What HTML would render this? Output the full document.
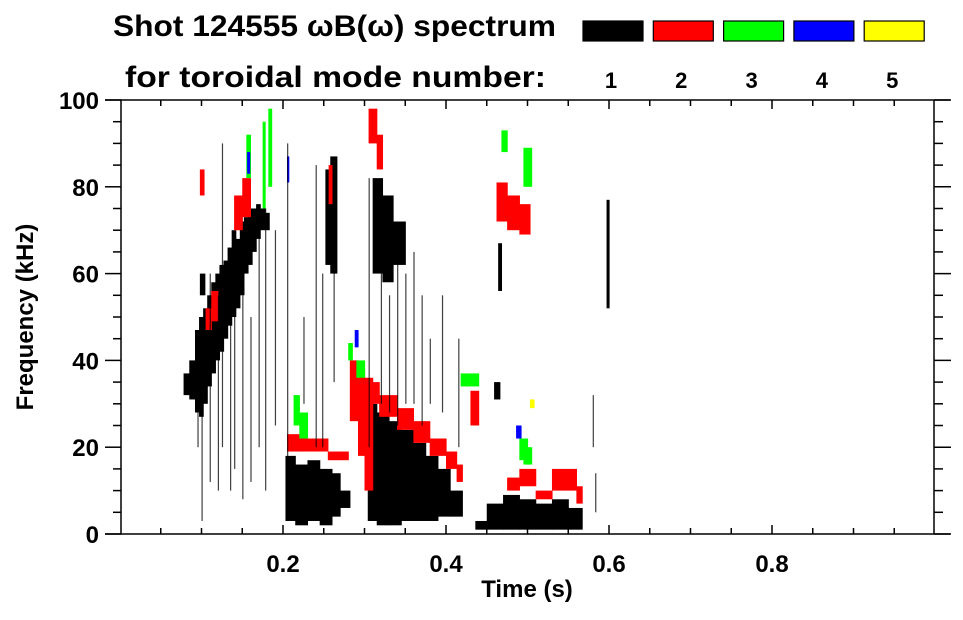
<!DOCTYPE html>
<html><head><meta charset="utf-8">
<style>
html,body{margin:0;padding:0;background:#fff;}
body{width:963px;height:615px;overflow:hidden;font-family:"Liberation Sans",Arial,sans-serif;}
svg text{font-family:"Liberation Sans",Arial,sans-serif;font-weight:bold;fill:#000;}
</style></head>
<body>
<svg id="chart" width="963" height="615" viewBox="0 0 963 615" xmlns="http://www.w3.org/2000/svg">
  <g>
    <text x="113" y="36" font-size="30" textLength="443" lengthAdjust="spacingAndGlyphs">Shot 124555 ωB(ω) spectrum</text>
    <text x="125" y="87" font-size="30" textLength="421" lengthAdjust="spacingAndGlyphs">for toroidal mode number:</text>
  </g>
  <g id="legend"></g>
  <g id="plot"></g>
  <g id="axes"></g>
  <text x="527" y="597" font-size="24" text-anchor="middle">Time (s)</text>
  <text transform="translate(33,317) rotate(-90)" font-size="24" text-anchor="middle">Frequency (kHz)</text>
</svg>
<script>
// ---- data ----
const modeNumbers = ["1","2","3","4","5"];
const modeColors = ["#000000","#ff0000","#00ff00","#0000ff","#ffff00"];
const xTicks = [0.2,0.4,0.6,0.8];
const yTicks = [0,20,40,60,80,100];
// rectangles [t0, t1, fLow, fHigh] per mode
const mode1Blobs = [
 [0.078,0.085,32,37],[0.085,0.092,31,40],[0.092,0.097,28,47],[0.097,0.102,27,50],[0.102,0.107,30,52],
 [0.107,0.112,34,55],[0.112,0.117,37,58],[0.117,0.122,40,60],[0.122,0.127,42,62],[0.127,0.132,45,63],
 [0.132,0.137,48,66],[0.137,0.142,50,70],[0.142,0.147,52,68],[0.147,0.152,55,72],[0.152,0.157,60,73],
 [0.157,0.162,62,75],[0.162,0.167,65,75],[0.167,0.172,68,76],[0.172,0.178,70,75],[0.178,0.183,70,74],
 [0.098,0.104,55,60],
 [0.203,0.215,3,18],[0.215,0.23,2,16],[0.23,0.245,3,17],[0.245,0.26,2,15],[0.26,0.27,4,14],[0.27,0.282,6,10],
 [0.252,0.258,62,84],[0.258,0.266,60,87],
 [0.304,0.315,3,30],[0.315,0.33,2,28],[0.33,0.345,2,26],[0.345,0.36,3,24],[0.36,0.375,3,21],
 [0.375,0.39,3,18],[0.39,0.405,4,15],[0.405,0.42,4,10],
 [0.31,0.322,60,82],[0.322,0.335,58,78],[0.335,0.35,62,72],
 [0.436,0.45,1,3],[0.45,0.47,1,7],[0.47,0.49,1,9],[0.49,0.51,1,8],[0.51,0.53,1,7],[0.53,0.55,1,8],[0.55,0.567,1,6],
 [0.459,0.466,31,35],[0.464,0.468,56,67],[0.597,0.6,52,77]
];
const mode1Streaks = [
 [0.095,20,45],[0.1,3,40],[0.11,12,60],[0.12,10,55],[0.125,20,90],[0.135,10,65],[0.14,15,60],[0.15,8,55],
 [0.16,12,50],[0.17,20,70],[0.178,10,75],[0.19,25,70],[0.205,15,90],[0.225,30,50],[0.24,20,85],
 [0.248,20,60],[0.262,35,62],[0.305,20,82],[0.32,30,60],[0.33,28,55],[0.34,25,70],[0.35,30,60],
 [0.36,30,65],[0.37,25,55],[0.38,30,45],[0.395,28,55],[0.415,20,45],[0.58,20,32],[0.583,5,14]
];
const mode2Blobs = [
 [0.098,0.103,78,84],[0.105,0.112,47,52],[0.112,0.12,49,56],[0.14,0.15,70,78],[0.15,0.16,73,82],
 [0.205,0.22,19,23],[0.22,0.255,19,22],[0.255,0.28,17,19],
 [0.282,0.292,26,40],[0.292,0.3,18,38],[0.3,0.31,10,36],[0.31,0.318,30,35],
 [0.318,0.34,27,32],[0.34,0.36,24,29],[0.36,0.38,21,26],[0.38,0.4,18,22],[0.4,0.413,15,19],[0.413,0.42,12,16],
 [0.305,0.315,90,98],[0.315,0.322,84,92],[0.256,0.26,76,85],
 [0.43,0.44,25,33],[0.462,0.475,72,81],[0.475,0.49,70,78],[0.49,0.503,69,76],
 [0.475,0.49,10,13],[0.49,0.51,11,15],[0.51,0.53,8,10],[0.53,0.56,10,15],[0.56,0.567,7,11]
];
const mode3Blobs = [
 [0.175,0.178,75,95],[0.182,0.186,80,98],[0.155,0.16,82,92],
 [0.213,0.22,25,32],[0.22,0.23,22,28],[0.28,0.285,40,44],[0.29,0.3,36,40],
 [0.418,0.44,34,37],[0.468,0.475,88,93],[0.495,0.505,80,89],[0.49,0.5,17,22],[0.495,0.505,16,20]
];
const mode4Blobs = [[0.156,0.159,83,88],[0.205,0.207,81,87],[0.288,0.292,43,47],[0.486,0.492,22,25]];
const mode5Blobs = [[0.503,0.508,29,31]];
const blobsByMode = [mode1Blobs,mode2Blobs,mode3Blobs,mode4Blobs,mode5Blobs];

// ---- axis functions ----
const X0=120, X1=935, Y0=534, Y1=100;
const xs = t => X0 + t*(X1-X0);
const ys = f => Y0 - f/100*(Y0-Y1);
const NS="http://www.w3.org/2000/svg";
function mk(tag, attrs, parent){const e=document.createElementNS(NS,tag);for(const k in attrs)e.setAttribute(k,attrs[k]);parent.appendChild(e);return e;}

const plot=document.getElementById('plot');
blobsByMode.forEach((arr,m)=>{
  arr.forEach(b=>{
    const r=mk('rect',{x:xs(b[0]),y:ys(b[3]),width:Math.max(1,xs(b[1])-xs(b[0])+0.6),height:ys(b[2])-ys(b[3]),fill:modeColors[m]},plot);
    
    
  });
});
mode1Streaks.forEach(s=>{
  const r=mk('rect',{x:xs(s[0]),y:ys(s[2]),width:1.2,height:ys(s[1])-ys(s[2]),fill:'#000','fill-opacity':0.75},plot);
  
  
});

// legend
const lg=document.getElementById('legend');
modeNumbers.forEach((n,i)=>{
  const bx=583+i*70.3;
  const r=mk('rect',{x:bx,y:21,width:60,height:20,fill:modeColors[i],stroke:'#000','stroke-width':1.2},lg);
  
  
  const t=mk('text',{x:bx+28,y:88,'font-size':22,'text-anchor':'middle'},lg);
  t.textContent=n;
  
  
});

// axes
const ax=document.getElementById('axes');
const ln=(x1,y1,x2,y2,nm)=>{const l=mk('line',{x1,y1,x2,y2,stroke:'#000','stroke-width':1.5},ax);};
ln(105,Y0,950,Y0,'x-axis-line');
ln(105,Y1,950,Y1,'top-axis-line');
ln(X0+1,Y1,X0+1,Y0,'y-axis-line');
ln(X1-1,Y1,X1-1,Y0,'right-axis-line');
for(let i=1;i<20;i++){
  const t=i*0.05, big=(i%4===0), x=xs(t);
  ln(x,Y0,x,Y0-(big?9:6),'x-tick');
  ln(x,Y1,x,Y1+(big?9:6),'x-tick-top');
}
for(let i=0;i<=20;i++){
  const f=i*5, big=(i%4===0), y=ys(f);
  ln(big?105:113,y,X0+1,y,'y-tick');
  ln(X1-1,y,big?951:943,y,'y-tick-right');
}
xTicks.forEach(v=>{
  const t=mk('text',{x:xs(v),y:572,'font-size':24,'text-anchor':'middle'},ax);
  t.textContent=v.toFixed(1);
  
  
});
yTicks.forEach(v=>{
  const t=mk('text',{x:99,y:ys(v)+9,'font-size':24,'text-anchor':'end'},ax);
  t.textContent=String(v);
  
  
});
</script>
</body></html>
